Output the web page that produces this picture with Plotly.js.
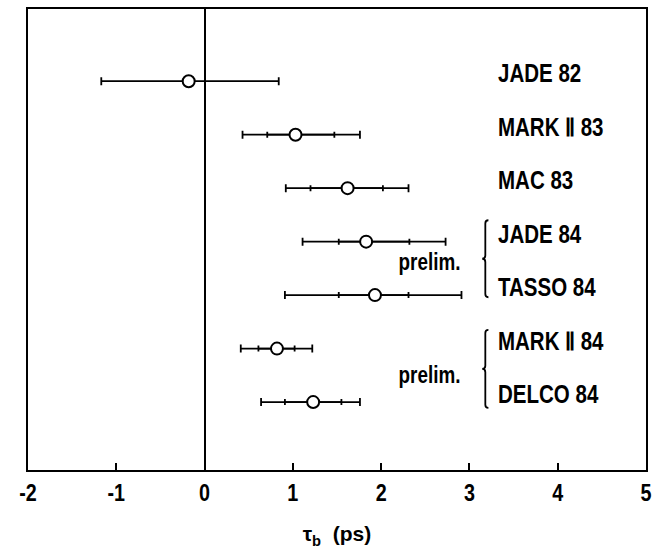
<!DOCTYPE html>
<html>
<head>
<meta charset="utf-8">
<script src="https://cdn.plot.ly/plotly-3.0.1.min.js"></script>
<style>html,body{margin:0;padding:0;background:#fff;}#chart{width:653px;height:550px;}</style>
</head>
<body>
<div id="chart"></div>
<script>
// Data
const experiments = ['JADE 82', 'MARK Ⅱ 83', 'MAC 83', 'JADE 84', 'TASSO 84', 'MARK Ⅱ 84', 'DELCO 84'];
const tau = [-0.18, 1.03, 1.62, 1.83, 1.93, 0.82, 1.23];
const statPlus = [0, 0.44, 0.40, 0.49, 0.38, 0.20, 0.32];
const statMinus = [0, 0.32, 0.42, 0.31, 0.41, 0.21, 0.32];
const totPlus = [1.02, 0.73, 0.69, 0.90, 0.98, 0.40, 0.53];
const totMinus = [0.99, 0.60, 0.70, 0.72, 1.02, 0.41, 0.59];
const tickVals = [-2, -1, 0, 1, 2, 3, 4, 5];
const tickText = ['-2', '-1', '0', '1', '2', '3', '4', '5'];
const prelimNote = 'prelim.';
const xTitle = 'τ<sub>b</sub>  (ps)';

const FONT = '"Liberation Sans", Arial, sans-serif';
const SQUEEZE = 0.82;

const traces = [
  {
    type: 'scatter', mode: 'markers', x: tau, y: experiments,
    marker: {size: 1, color: 'rgba(0,0,0,0)'},
    error_x: {type: 'data', symmetric: false, array: totPlus, arrayminus: totMinus,
              color: '#000', thickness: 1.8, width: 4},
    hoverinfo: 'skip', showlegend: false
  },
  {
    type: 'scatter', mode: 'markers', x: tau, y: experiments,
    marker: {size: 1, color: 'rgba(0,0,0,0)'},
    error_x: {type: 'data', symmetric: false, array: statPlus, arrayminus: statMinus,
              color: '#000', thickness: 1.8, width: 3},
    hoverinfo: 'skip', showlegend: false
  },
  {
    type: 'scatter', mode: 'markers', x: tau, y: experiments,
    marker: {symbol: 'circle', size: 12, color: '#fff', line: {color: '#000', width: 2}},
    showlegend: false
  }
];

const labelAnn = experiments.map((name, i) => ({
  x: 3.30, y: i, xref: 'x', yref: 'y', text: name, showarrow: false,
  xanchor: 'left', yanchor: 'middle', align: 'left', yshift: 8,
  font: {family: FONT, size: 25, color: '#000', weight: 'bold'}
}));
const prelimAnn = [3.5, 5.5].map((yy, k) => ({
  x: 2.92, y: yy, xref: 'x', yref: 'y', text: prelimNote, showarrow: false,
  xanchor: 'right', yanchor: 'middle', align: 'right', yshift: k === 0 ? 6 : 0,
  font: {family: FONT, size: 23, color: '#000', weight: 'bold'}
}));

function brace(x, y0, y1) {
  const ym = (y0 + y1) / 2;
  const dx = 0.035, dy = 0.06;
  return {
    type: 'path', xref: 'x', yref: 'y',
    path: `M ${x + dx} ${y0} Q ${x} ${y0} ${x} ${y0 + dy} L ${x} ${ym - dy} Q ${x} ${ym} ${x - dx} ${ym} ` +
          `Q ${x} ${ym} ${x} ${ym + dy} L ${x} ${y1 - dy} Q ${x} ${y1} ${x + dx} ${y1}`,
    line: {color: '#000', width: 1.8}
  };
}

const layout = {
  width: 653, height: 550,
  margin: {l: 28, r: 7, t: 9, b: 80},
  paper_bgcolor: '#fff', plot_bgcolor: '#fff',
  font: {family: FONT, color: '#000', weight: 'bold'},
  xaxis: {
    range: [-2, 5], tickvals: tickVals, ticktext: tickText,
    ticks: 'inside', ticklen: 7, tickwidth: 2, tickcolor: '#000',
    ticklabeloverflow: 'allow',
    showline: true, linewidth: 2, linecolor: '#000', mirror: true,
    showgrid: false, zeroline: true, zerolinecolor: '#000', zerolinewidth: 2,
    tickfont: {family: FONT, size: 24, color: '#000', weight: 'bold'},
    title: {text: xTitle, font: {family: FONT, size: 21, color: '#000', weight: 'bold'}, standoff: 22}
  },
  yaxis: {
    type: 'category', range: [7.27, -1.35],
    showline: true, linewidth: 2, linecolor: '#000', mirror: true,
    showgrid: false, zeroline: false, showticklabels: false, ticks: ''
  },
  annotations: labelAnn.concat(prelimAnn),
  shapes: [brace(3.18, 2.60, 4.04), brace(3.18, 4.65, 6.11)]
};

Plotly.newPlot('chart', traces, layout, {displayModeBar: false, staticPlot: true}).then(gd => {
  // mimic the condensed typeface of the original figure
  gd.querySelectorAll('.annotation-text, .xtick text').forEach(el => {
    const w = el.getComputedTextLength();
    if (w > 0) {
      el.setAttribute('textLength', (w * SQUEEZE).toFixed(1));
      el.setAttribute('lengthAdjust', 'spacingAndGlyphs');
    }
  });
});
</script>
</body>
</html>
